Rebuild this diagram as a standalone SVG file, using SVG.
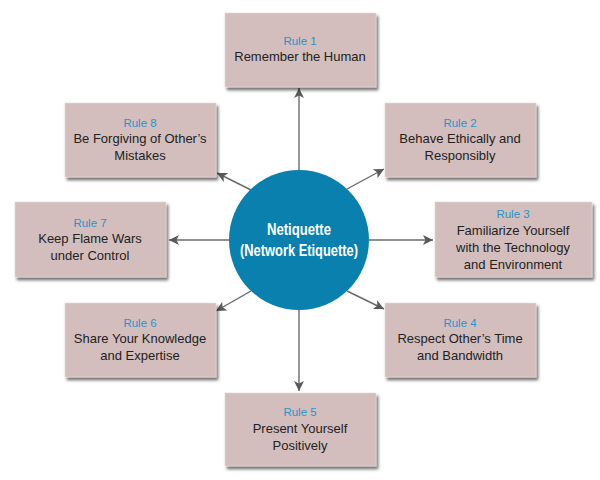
<svg xmlns="http://www.w3.org/2000/svg" width="600" height="480" viewBox="0 0 600 480">
  <defs>
    <filter id="sh" x="-10%" y="-10%" width="130%" height="140%">
      <feDropShadow dx="2" dy="3" stdDeviation="1.8" flood-color="#000" flood-opacity="0.55"/>
    </filter>
    <marker id="ah" markerUnits="userSpaceOnUse" markerWidth="11" markerHeight="10" refX="10" refY="5" orient="auto">
      <path d="M0,0 L10,5 L0,10 L2.5,5 z" fill="#5a5a5a"/>
    </marker>
  </defs>
  <style>
    .box { fill: #d3bebd; stroke: #e3d6d5; stroke-width: 0.6; filter: url(#sh); }
    .rl { font-family: "Liberation Sans", Arial, sans-serif; font-size: 11.5px; fill: #2b93c9; text-anchor: middle; }
    .tx { font-family: "Liberation Sans", Arial, sans-serif; font-size: 13px; fill: #222; text-anchor: middle; }
    .cn line { stroke: #6a6a6a; stroke-width: 1.4; marker-end: url(#ah); }
    .ct { font-family: "Liberation Sans Narrow", "Liberation Sans", Arial, sans-serif; font-weight: bold; font-size: 16px; fill: #fff; text-anchor: middle; }
  </style>
  <rect width="600" height="480" fill="#fff"/>

  <g id="connectors" class="cn">
    <line x1="299" y1="171" x2="299" y2="88"/>
    <line x1="299" y1="309" x2="299" y2="391"/>
    <line x1="230" y1="240" x2="169" y2="240"/>
    <line x1="368" y1="240" x2="433" y2="240"/>
    <line x1="251" y1="190" x2="217" y2="173"/>
    <line x1="347" y1="189" x2="384" y2="169"/>
    <line x1="251" y1="291" x2="216" y2="311"/>
    <line x1="347" y1="291" x2="384" y2="309"/>
  </g>

  <g id="center">
    <circle cx="299" cy="240" r="70" fill="#0a80ae"/>
    <text class="ct" x="299" y="235" textLength="64" lengthAdjust="spacingAndGlyphs">Netiquette</text>
    <text class="ct" x="299" y="256" textLength="118" lengthAdjust="spacingAndGlyphs">(Network Etiquette)</text>
  </g>

  <g id="rule1">
    <rect class="box" x="225" y="13" width="151" height="74"/>
    <text class="rl" x="300" y="45">Rule 1</text>
    <text class="tx" x="300" y="61">Remember the Human</text>
  </g>
  <g id="rule2">
    <rect class="box" x="385" y="103" width="151" height="74"/>
    <text class="rl" x="460" y="127">Rule 2</text>
    <text class="tx" x="460" y="143">Behave Ethically and</text>
    <text class="tx" x="460" y="160">Responsibly</text>
  </g>
  <g id="rule3">
    <rect class="box" x="435" y="202" width="157" height="75"/>
    <text class="rl" x="513" y="218">Rule 3</text>
    <text class="tx" x="513" y="235">Familiarize Yourself</text>
    <text class="tx" x="513" y="252">with the Technology</text>
    <text class="tx" x="513" y="269">and Environment</text>
  </g>
  <g id="rule4">
    <rect class="box" x="385" y="303" width="151" height="74"/>
    <text class="rl" x="460" y="327">Rule 4</text>
    <text class="tx" x="460" y="343">Respect Other’s Time</text>
    <text class="tx" x="460" y="360">and Bandwidth</text>
  </g>
  <g id="rule5">
    <rect class="box" x="225" y="393" width="151" height="73"/>
    <text class="rl" x="300" y="416">Rule 5</text>
    <text class="tx" x="300" y="433">Present Yourself</text>
    <text class="tx" x="300" y="450">Positively</text>
  </g>
  <g id="rule6">
    <rect class="box" x="65" y="303" width="151" height="74"/>
    <text class="rl" x="140" y="327">Rule 6</text>
    <text class="tx" x="140" y="343">Share Your Knowledge</text>
    <text class="tx" x="140" y="360">and Expertise</text>
  </g>
  <g id="rule7">
    <rect class="box" x="15" y="202" width="151" height="75"/>
    <text class="rl" x="90" y="227">Rule 7</text>
    <text class="tx" x="90" y="243">Keep Flame Wars</text>
    <text class="tx" x="90" y="260">under Control</text>
  </g>
  <g id="rule8">
    <rect class="box" x="65" y="103" width="151" height="74"/>
    <text class="rl" x="140" y="127">Rule 8</text>
    <text class="tx" x="140" y="143">Be Forgiving of Other’s</text>
    <text class="tx" x="140" y="160">Mistakes</text>
  </g>
</svg>
